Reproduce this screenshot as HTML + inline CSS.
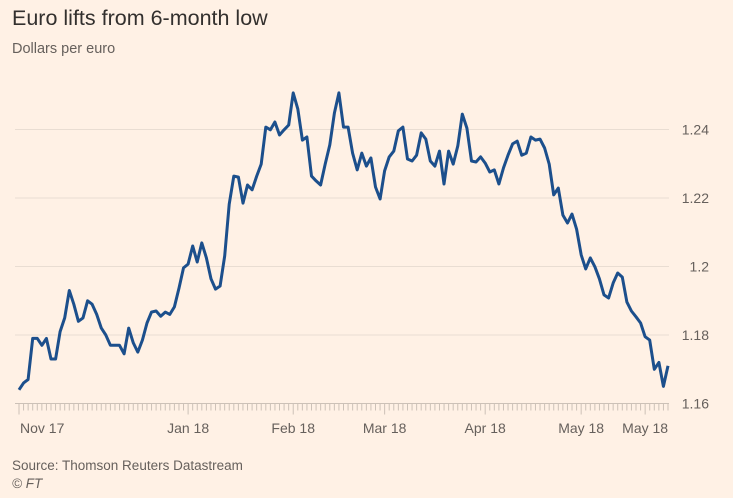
<!DOCTYPE html>
<html><head><meta charset="utf-8">
<style>
body{margin:0;background:#fff1e5;font-family:"Liberation Sans",sans-serif;}
svg{display:block}
</style></head>
<body>
<svg id="chart" width="733" height="498" viewBox="0 0 733 498" xmlns="http://www.w3.org/2000/svg">
<rect width="733" height="498" fill="#fff1e5"/>
<text x="12" y="25" font-size="21.5" fill="#33302e">Euro lifts from 6-month low</text>
<text x="12" y="53" font-size="14.5" fill="#66605c">Dollars per euro</text>
<g id="grid"></g>
<g id="yaxis"></g>
<g id="xaxis"></g>
<g id="series"></g>
<text x="12" y="470" font-size="13.5" fill="#66605c">Source: Thomson Reuters Datastream</text>
<text x="12" y="488" font-size="13.5" font-style="italic" fill="#66605c">© FT</text>
</svg>
<script>
const yTicks=[1.16,1.18,1.2,1.22,1.24];
const yTickLabels=["1.16","1.18","1.2","1.22","1.24"];
const xLabels=["Nov 17","Jan 18","Feb 18","Mar 18","Apr 18","May 18","May 18"];
const xLabelIdx=[0,37,60,80,102,123,137];
const values=[1.164,1.166,1.167,1.179,1.179,1.177,1.179,1.173,1.173,1.181,1.185,1.193,1.189,1.184,1.185,1.190,1.189,1.186,1.182,1.180,1.177,1.177,1.177,1.1745,1.182,1.1777,1.175,1.1785,1.1835,1.1867,1.187,1.1855,1.1867,1.186,1.1882,1.1937,1.1996,1.2007,1.206,1.2013,1.2069,1.2025,1.1964,1.1934,1.1943,1.2031,1.2182,1.2264,1.2261,1.2185,1.2238,1.2224,1.2264,1.2299,1.2407,1.2399,1.2422,1.2384,1.2399,1.2413,1.2507,1.246,1.2369,1.2378,1.2264,1.225,1.2238,1.2299,1.2355,1.2448,1.2507,1.2407,1.2407,1.2331,1.2282,1.2331,1.2293,1.2317,1.2232,1.2197,1.2279,1.232,1.2337,1.2396,1.2407,1.2314,1.2308,1.2325,1.239,1.2372,1.2308,1.2293,1.2337,1.2241,1.2337,1.2299,1.2352,1.2445,1.2404,1.2308,1.2305,1.232,1.2302,1.2276,1.2282,1.2241,1.2288,1.2325,1.2358,1.2366,1.2325,1.2331,1.2378,1.2369,1.2372,1.2346,1.2299,1.2209,1.2229,1.215,1.2127,1.2153,1.2109,1.2034,1.1993,1.2025,1.1999,1.1964,1.1917,1.1908,1.1952,1.1981,1.1969,1.1896,1.187,1.1853,1.1835,1.1795,1.1785,1.1700,1.1720,1.1650,1.1710];

const NS="http://www.w3.org/2000/svg";
const X0=19,X1=668,Y0=403.5,Y1=129.5;
const n=values.length;
function xs(i){return X0+i*(X1-X0)/(n-1);}
function ys(v){return Y0-(v-1.16)/(1.24-1.16)*(Y0-Y1);}
function mk(tag,attrs,parent){const e=document.createElementNS(NS,tag);for(const k in attrs)e.setAttribute(k,attrs[k]);parent.appendChild(e);return e;}
const grid=document.getElementById('grid'),ya=document.getElementById('yaxis'),xa=document.getElementById('xaxis'),ser=document.getElementById('series');
yTicks.forEach((t,k)=>{
  const y=ys(t);
  if(k>0){const l=mk('line',{x1:15,x2:669,y1:y,y2:y,stroke:'#e9ddd2','stroke-width':1},grid);
  
  }
  const tx=mk('text',{x:709,y:y+5,'font-size':14,fill:'#66605c','text-anchor':'end'},ya);
  tx.textContent=yTickLabels[k];
  
  
});
const base=mk('line',{x1:15,x2:669,y1:Y0,y2:Y0,stroke:'#ccc1b7','stroke-width':1},xa);


for(let i=0;i<n;i++){
  const major=xLabelIdx.includes(i);
  const t=mk('line',{x1:xs(i),x2:xs(i),y1:Y0,y2:Y0+(major?11:7),stroke:'#ccc1b7','stroke-width':1},xa);
  
  
}
xLabels.forEach((lab,k)=>{
  const i=xLabelIdx[k];
  const tx=mk('text',{x:k==0?xs(i)+1:xs(i),y:433,'font-size':14,fill:'#66605c','text-anchor':k==0?'start':'middle'},xa);
  tx.textContent=lab;
  
  
});
let d='';
values.forEach((v,i)=>{d+=(i?'L':'M')+xs(i).toFixed(1)+','+ys(v).toFixed(1);});
const p=mk('path',{d:d,fill:'none',stroke:'#1c4f8c','stroke-width':3,'stroke-linejoin':'round'},ser);


</script>
</body></html>
